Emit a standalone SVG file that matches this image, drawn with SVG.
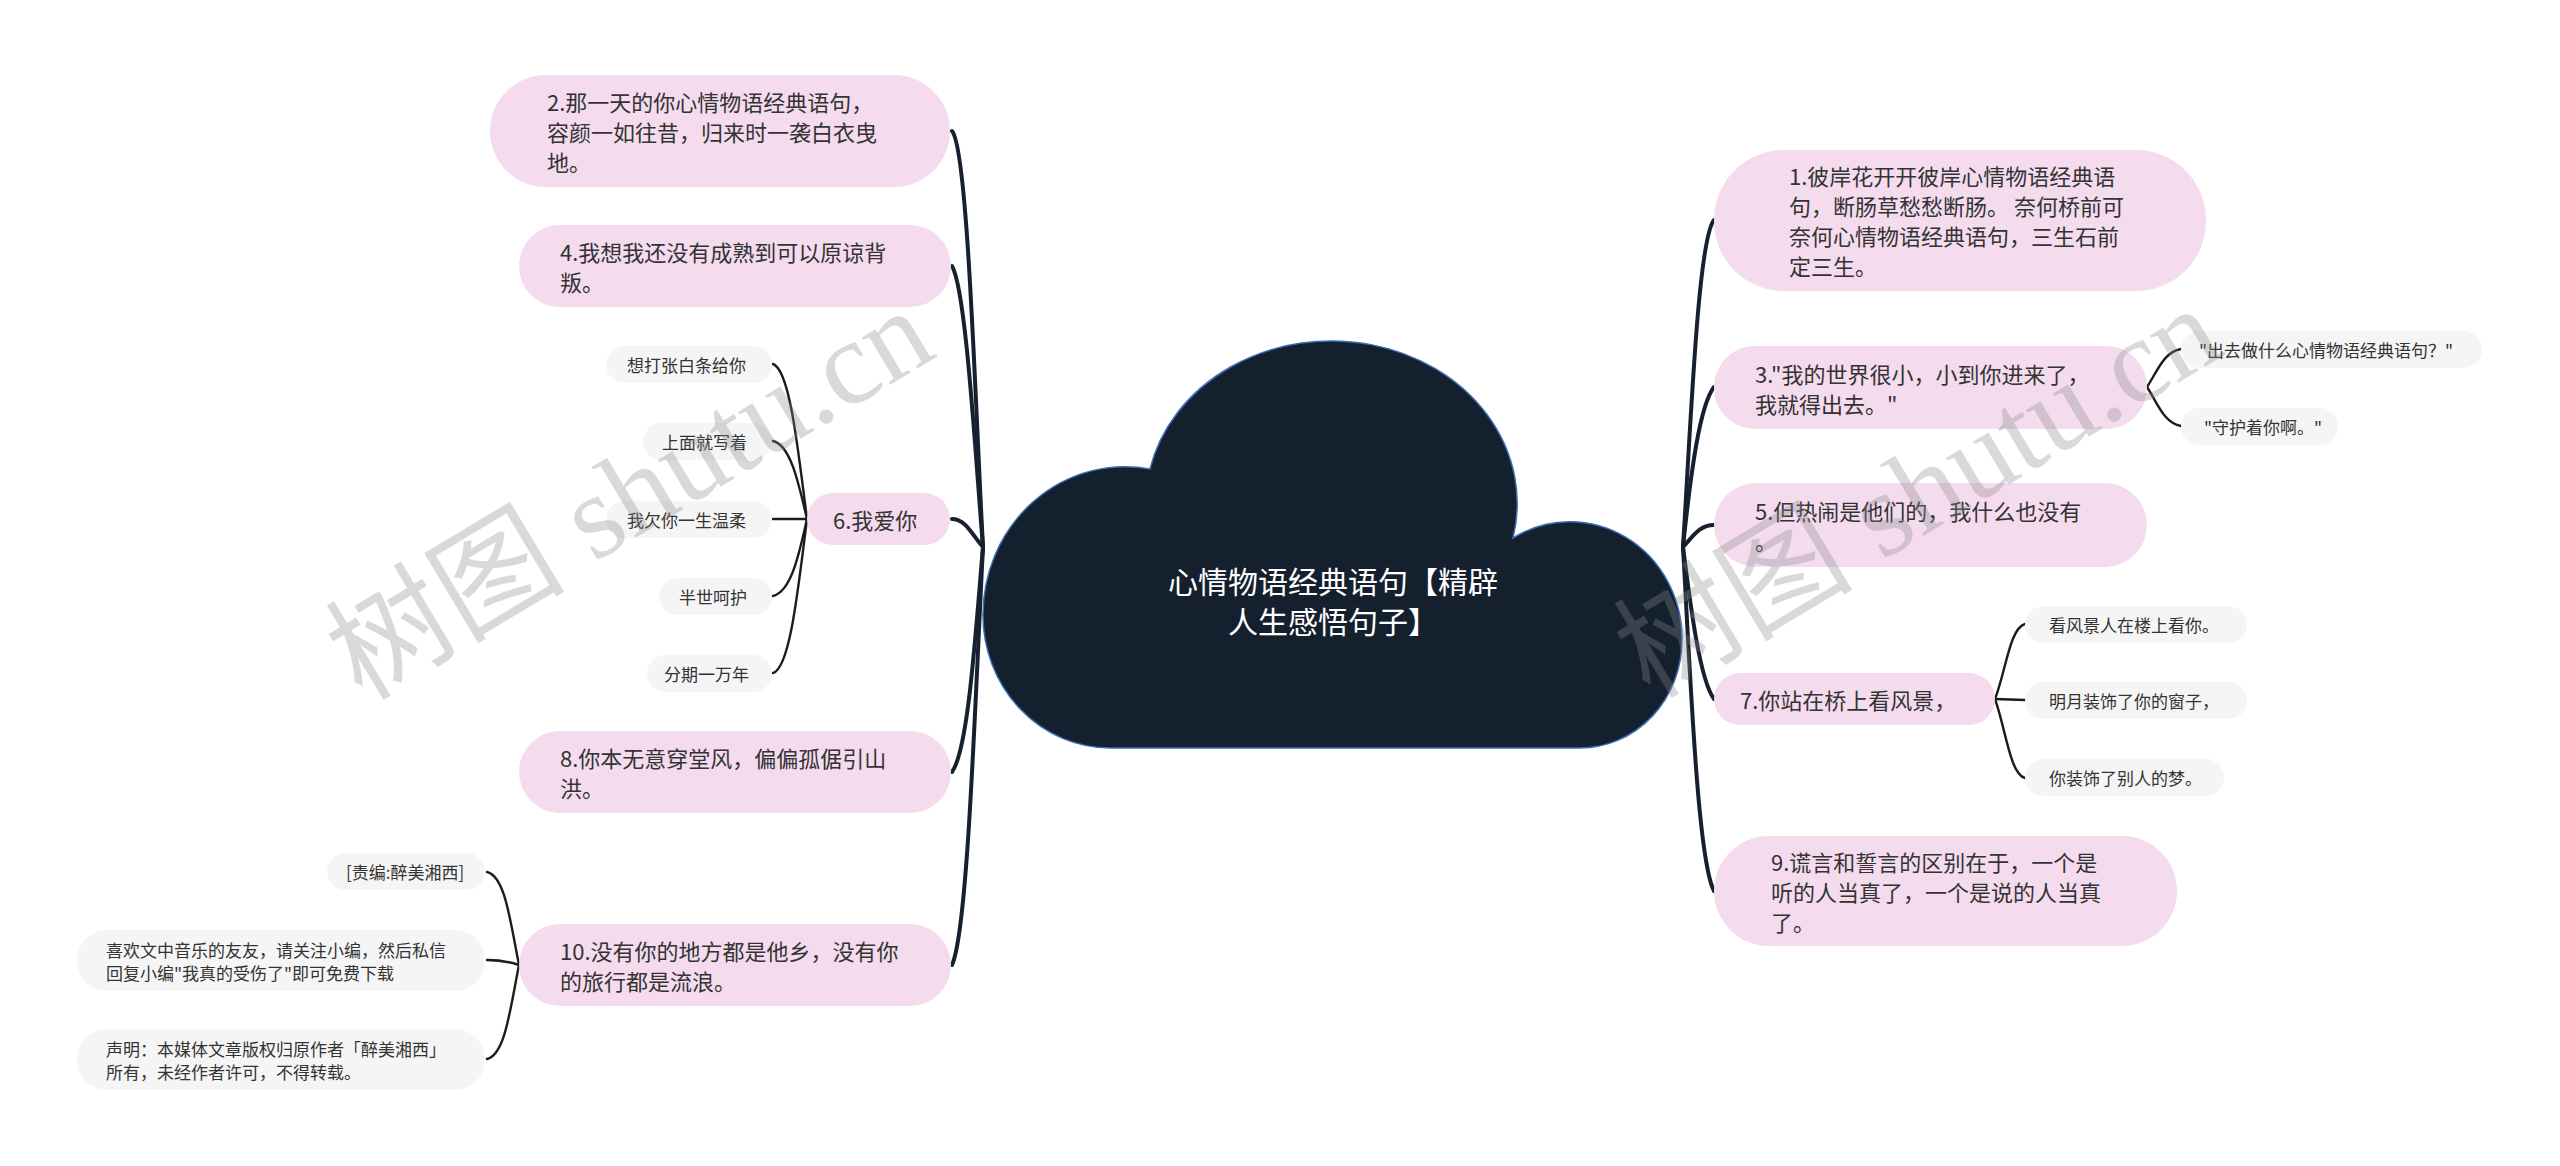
<svg xmlns="http://www.w3.org/2000/svg" width="2560" height="1166" viewBox="0 0 2560 1166">
<style>
.pk{fill:#f4dbee}
.gy{fill:#f5f5f5}
.t{font-family:"Noto Sans CJK SC","Noto Sans",sans-serif;font-size:22px;fill:#333333;dominant-baseline:central}
.s{font-family:"Noto Sans CJK SC","Noto Sans",sans-serif;font-size:17px;fill:#333333;dominant-baseline:central}
.main{fill:none;stroke:#17202e;stroke-width:4;stroke-linecap:round}
.sub{fill:none;stroke:#1c1c1c;stroke-width:2.4;stroke-linecap:round}
.wm{font-family:"Liberation Serif","Noto Sans CJK SC",serif;font-size:120px;fill:#8a8a8a;opacity:0.32}
</style>
<rect width="2560" height="1166" fill="#ffffff"/>
<g id="connectors">
<path class="main" d="M983,547 C975,400 968,150 952,131"/>
<path class="main" d="M983,547 C975,450 966,290 952,266"/>
<path class="main" d="M983,547 C972,535 966,519 952,519"/>
<path class="main" d="M983,547 C975,640 968,750 952,772"/>
<path class="main" d="M983,547 C975,700 968,930 952,965"/>
<path class="main" d="M1683,547 C1691,420 1698,240 1714,220"/>
<path class="main" d="M1683,547 C1691,470 1700,405 1714,387"/>
<path class="main" d="M1683,547 C1694,535 1700,525 1714,525"/>
<path class="main" d="M1683,547 C1691,610 1700,680 1714,699"/>
<path class="main" d="M1683,547 C1691,690 1698,860 1714,891"/>
<path class="sub" d="M807,519 C798,450 790,370 773,364"/>
<path class="sub" d="M807,519 C798,480 790,445 773,441"/>
<path class="sub" d="M807,519 L773,519"/>
<path class="sub" d="M807,519 C798,560 790,592 773,596"/>
<path class="sub" d="M807,519 C798,590 790,668 773,673"/>
<path class="sub" d="M519,965 C510,920 505,876 487,872"/>
<path class="sub" d="M519,965 C510,962 500,960 487,960"/>
<path class="sub" d="M519,965 C510,1010 505,1055 487,1059"/>
<path class="sub" d="M2147,387 C2158,370 2164,352 2181,349"/>
<path class="sub" d="M2147,387 C2158,404 2164,423 2181,426"/>
<path class="sub" d="M1995,699 C2006,670 2010,628 2025,624"/>
<path class="sub" d="M1995,699 L2025,700"/>
<path class="sub" d="M1995,699 C2006,730 2010,774 2025,778"/>
</g>
<g id="center">
<path d="M1110,748 A127,133 0 0 1 983,615 A142,148 0 0 1 1150,469 A185,162 0 0 1 1513,538 A112,117 0 0 1 1682,640 A102,108 0 0 1 1580,748 Z" fill="#15202f" stroke="#3b6db3" stroke-width="1.5"/>
<text x="1333" y="580" text-anchor="middle" font-family="'Noto Sans CJK SC',sans-serif" font-size="30" fill="#ffffff" dominant-baseline="central">心情物语经典语句【精辟</text>
<text x="1333" y="620" text-anchor="middle" font-family="'Noto Sans CJK SC',sans-serif" font-size="30" fill="#ffffff" dominant-baseline="central">人生感悟句子】</text>
</g>
<g id="n2"><rect class="pk" x="490" y="75" width="460" height="112" rx="56"/>
<text class="t" x="547" y="101">2.那一天的你心情物语经典语句，</text>
<text class="t" x="547" y="131">容颜一如往昔，归来时一袭白衣曳</text>
<text class="t" x="547" y="161">地。</text></g>
<g id="n4"><rect class="pk" x="519" y="225" width="432" height="82" rx="41"/>
<text class="t" x="560" y="251">4.我想我还没有成熟到可以原谅背</text>
<text class="t" x="560" y="281">叛。</text></g>
<g id="n6"><rect class="pk" x="807" y="493" width="143" height="52" rx="26"/>
<text class="t" x="833" y="519">6.我爱你</text></g>
<g id="n6a"><rect class="gy" x="606" y="346" width="166" height="37" rx="18.5"/><text class="s" x="627" y="364.5">想打张白条给你</text></g>
<g id="n6b"><rect class="gy" x="643" y="423" width="129" height="37" rx="18.5"/><text class="s" x="662" y="441.5">上面就写着</text></g>
<g id="n6c"><rect class="gy" x="606" y="501" width="166" height="37" rx="18.5"/><text class="s" x="627" y="519.5">我欠你一生温柔</text></g>
<g id="n6d"><rect class="gy" x="659" y="578" width="113" height="37" rx="18.5"/><text class="s" x="679" y="596.5">半世呵护</text></g>
<g id="n6e"><rect class="gy" x="647" y="655" width="125" height="37" rx="18.5"/><text class="s" x="664" y="673.5">分期一万年</text></g>
<g id="n8"><rect class="pk" x="519" y="731" width="432" height="82" rx="41"/>
<text class="t" x="560" y="757">8.你本无意穿堂风，偏偏孤倨引山</text>
<text class="t" x="560" y="787">洪。</text></g>
<g id="n10"><rect class="pk" x="519" y="924" width="432" height="82" rx="41"/>
<text class="t" x="560" y="950">10.没有你的地方都是他乡，没有你</text>
<text class="t" x="560" y="980">的旅行都是流浪。</text></g>
<g id="n10a"><rect class="gy" x="327" y="853" width="158" height="37" rx="18.5"/><text class="s" x="346" y="871.5">[责编:醉美湘西]</text></g>
<g id="n10b"><rect class="gy" x="77" y="930" width="408" height="61" rx="30"/>
<text class="s" x="106" y="949">喜欢文中音乐的友友，请关注小编，然后私信</text>
<text class="s" x="106" y="972">回复小编"我真的受伤了"即可免费下载</text></g>
<g id="n10c"><rect class="gy" x="77" y="1029" width="408" height="61" rx="30"/>
<text class="s" x="106" y="1048">声明：本媒体文章版权归原作者「醉美湘西」</text>
<text class="s" x="106" y="1071">所有，未经作者许可，不得转载。</text></g>
<g id="n1"><rect class="pk" x="1714" y="150" width="492" height="141" rx="70"/>
<text class="t" x="1789" y="175">1.彼岸花开开彼岸心情物语经典语</text>
<text class="t" x="1789" y="205">句，断肠草愁愁断肠。 奈何桥前可</text>
<text class="t" x="1789" y="235">奈何心情物语经典语句，三生石前</text>
<text class="t" x="1789" y="265">定三生。</text></g>
<g id="n3"><rect class="pk" x="1714" y="346" width="433" height="83" rx="41"/>
<text class="t" x="1755" y="373">3."我的世界很小，小到你进来了，</text>
<text class="t" x="1755" y="403">我就得出去。"</text></g>
<g id="n3a"><rect class="gy" x="2181" y="331" width="301" height="37" rx="18.5"/><text class="s" x="2199" y="349.5">"出去做什么心情物语经典语句？"</text></g>
<g id="n3b"><rect class="gy" x="2181" y="408" width="157" height="37" rx="18.5"/><text class="s" x="2204" y="426.5">"守护着你啊。"</text></g>
<g id="n5"><rect class="pk" x="1714" y="483" width="433" height="84" rx="42"/>
<text class="t" x="1755" y="510">5.但热闹是他们的，我什么也没有</text>
<text class="t" x="1755" y="540">。</text></g>
<g id="n7"><rect class="pk" x="1714" y="673" width="281" height="52" rx="26"/>
<text class="t" x="1740" y="699">7.你站在桥上看风景，</text></g>
<g id="n7a"><rect class="gy" x="2025" y="606" width="222" height="37" rx="18.5"/><text class="s" x="2049" y="624.5">看风景人在楼上看你。</text></g>
<g id="n7b"><rect class="gy" x="2025" y="682" width="222" height="37" rx="18.5"/><text class="s" x="2049" y="700.5">明月装饰了你的窗子，</text></g>
<g id="n7c"><rect class="gy" x="2025" y="759" width="199" height="37" rx="18.5"/><text class="s" x="2049" y="777.5">你装饰了别人的梦。</text></g>
<g id="n9"><rect class="pk" x="1714" y="836" width="463" height="110" rx="55"/>
<text class="t" x="1771" y="861">9.谎言和誓言的区别在于，一个是</text>
<text class="t" x="1771" y="891">听的人当真了，一个是说的人当真</text>
<text class="t" x="1771" y="921">了。</text></g>
<g id="watermarks">
<text class="wm" transform="translate(362,702) rotate(-31)">树图 shutu.cn</text>
<text class="wm" transform="translate(1650,700) rotate(-31)">树图 shutu.cn</text>
</g>
</svg>
